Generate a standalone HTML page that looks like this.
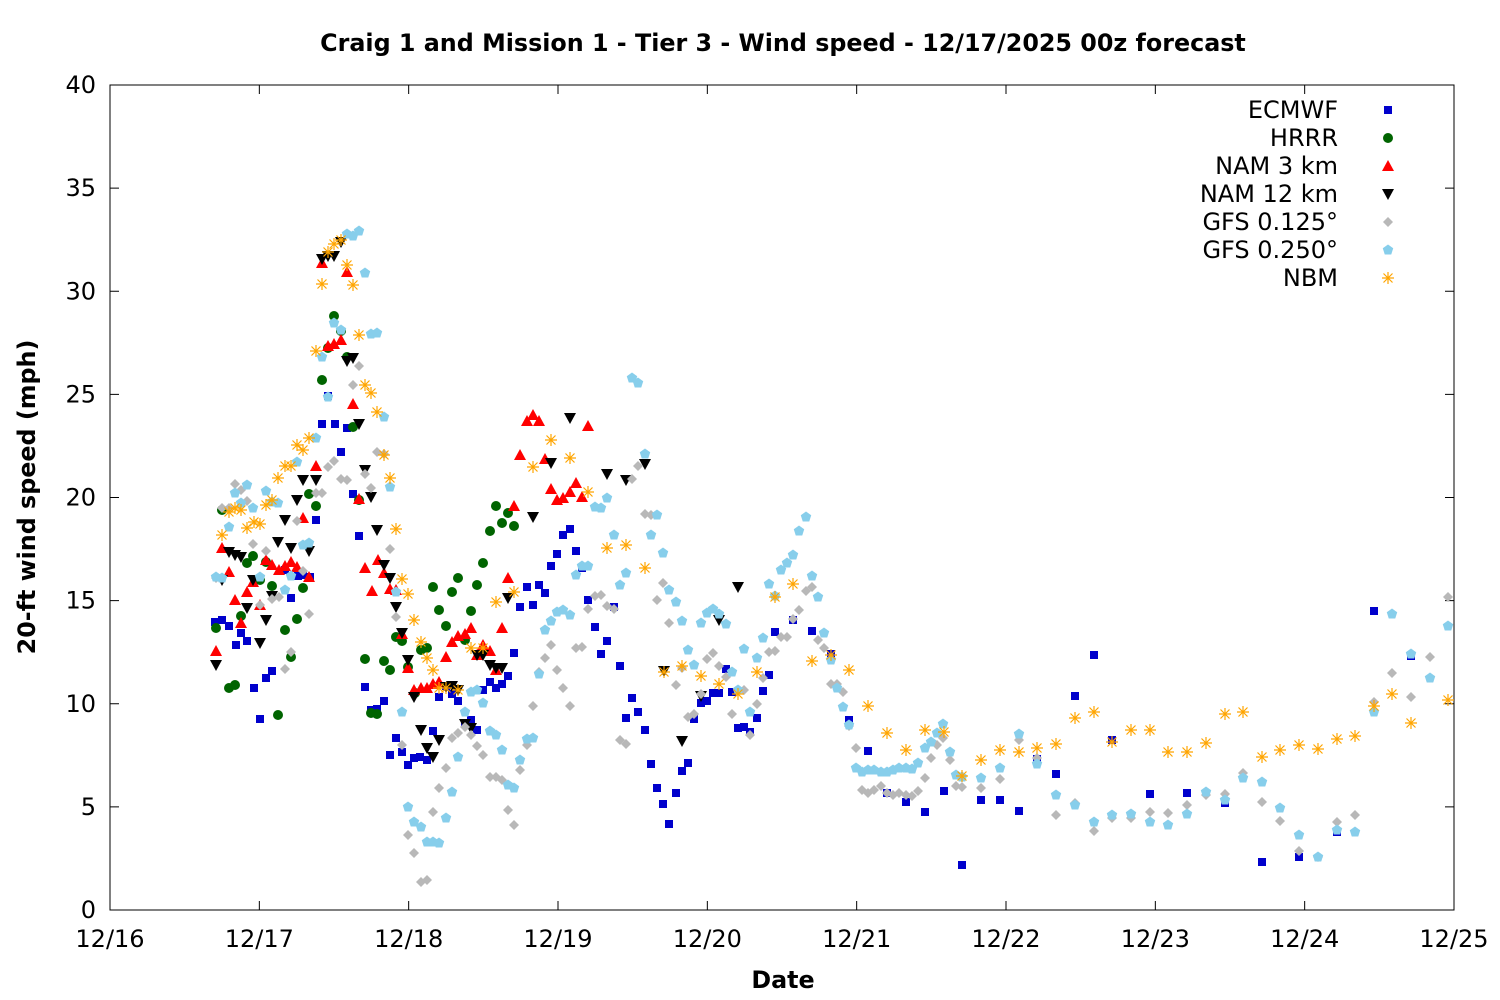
<!DOCTYPE html>
<html><head><meta charset="utf-8"><style>
html,body{margin:0;padding:0;background:#fff;}
svg{display:block;font-family:"DejaVu Sans","Liberation Sans",sans-serif;}
</style></head><body>
<svg id="s" width="1500" height="1000" xmlns="http://www.w3.org/2000/svg">
<rect width="1500" height="1000" fill="#fff"/>
<text x="783" y="51" text-anchor="middle" font-size="23.8" font-weight="bold">Craig 1 and Mission 1 - Tier 3 - Wind speed - 12/17/2025 00z forecast</text>
<text x="783" y="988" text-anchor="middle" font-size="23.8" font-weight="bold">Date</text>
<text transform="translate(35,497) rotate(-90)" text-anchor="middle" font-size="23.8" font-weight="bold">20-ft wind speed (mph)</text>
<g id="ax"></g>
<g id="pts"></g>
<g id="leg" font-size="24" text-anchor="end"></g>
</svg>
<script>
var NS="http://www.w3.org/2000/svg";
function el(t,a,p){var e=document.createElementNS(NS,t);for(var k in a)e.setAttribute(k,a[k]);p.appendChild(e);return e;}
var ax=document.getElementById('ax'),P=document.getElementById('pts'),L=document.getElementById('leg');
var X0=110,X1=1454,Y0=910,Y1=85;
el('rect',{x:X0,y:Y1,width:X1-X0,height:Y0-Y1,fill:'none',stroke:'#000','stroke-width':1},ax);
for(var v=0;v<=40;v+=5){var y=Y0-v*(Y0-Y1)/40;
 el('line',{x1:X0,y1:y,x2:X0+9,y2:y,stroke:'#000'},ax);el('line',{x1:X1,y1:y,x2:X1-9,y2:y,stroke:'#000'},ax);
 var t=el('text',{x:96,y:y+8,'text-anchor':'end','font-size':24},ax);t.textContent=v;}
var days=['12/16','12/17','12/18','12/19','12/20','12/21','12/22','12/23','12/24','12/25'];
for(var i=0;i<10;i++){var x=X0+i*(X1-X0)/9;
 el('line',{x1:x,y1:Y0,x2:x,y2:Y0-9,stroke:'#000'},ax);el('line',{x1:x,y1:Y1,x2:x,y2:Y1+9,stroke:'#000'},ax);
 var t=el('text',{x:x,y:947,'text-anchor':'middle','font-size':24},ax);t.textContent=days[i];}
function sym(k,x,y,c,g){
 if(k==0)el('rect',{x:x-4,y:y-4,width:8,height:8,fill:c},g);
 else if(k==1)el('circle',{cx:x,cy:y,r:5,fill:c},g);
 else if(k==2)el('polygon',{points:(x)+','+(y-6)+' '+(x+6)+','+(y+5)+' '+(x-6)+','+(y+5),fill:c},g);
 else if(k==3)el('polygon',{points:(x)+','+(y+6)+' '+(x+6)+','+(y-5)+' '+(x-6)+','+(y-5),fill:c},g);
 else if(k==4)el('polygon',{points:(x)+','+(y-5)+' '+(x+5)+','+y+' '+x+','+(y+5)+' '+(x-5)+','+y,fill:c},g);
 else if(k==5){var s='';for(var j=0;j<5;j++){var a=-Math.PI/2+j*2*Math.PI/5;s+=(x+5.5*Math.cos(a))+','+(y+5.5*Math.sin(a))+' ';}el('polygon',{points:s,fill:c},g);}
 else{var d=6;el('path',{d:'M'+(x-d)+' '+y+'H'+(x+d)+'M'+x+' '+(y-d)+'V'+(y+d)+'M'+(x-4.5)+' '+(y-4.5)+'L'+(x+4.5)+' '+(y+4.5)+'M'+(x-4.5)+' '+(y+4.5)+'L'+(x+4.5)+' '+(y-4.5),stroke:c,'stroke-width':1.2,fill:'none'},g);}
}
var S=[
[0,'#0000cc','ECMWF',[215,622,222,620,229,626,236,645,241,633,247,641,254,688,260,719,266,678,272,671,285,570,291,598,298,576,303,575,310,577,316,520,322,424,328,396,335,424,341,452,347,428,353,494,359,536,365,687,371,710,377,709,384,701,390,755,396,738,402,752,408,765,414,758,420,757,427,760,433,731,439,697,446,686,452,694,458,701,465,724,471,720,477,730,483,690,490,682,496,688,502,684,508,676,514,653,520,607,527,587,533,605,539,585,545,593,551,566,557,554,563,535,570,529,576,551,582,568,588,600,595,627,601,654,607,641,614,607,620,666,626,718,632,698,638,712,645,730,651,764,657,788,663,804,669,824,676,793,682,771,688,763,694,719,701,703,707,701,713,693,719,693,726,669,732,692,738,728,744,727,750,732,757,718,763,691,769,675,775,632,793,620,812,631,831,654,849,720,868,751,887,793,906,802,925,812,944,791,962,865,981,800,1000,800,1019,811,1037,759,1056,774,1075,696,1094,655,1112,740,1150,794,1187,793,1225,803,1262,862,1299,857,1337,832,1374,611,1411,656]],
[1,'#006400','HRRR',[216,628,222,510,229,688,235,685,241,616,247,563,253,556,260,580,266,562,272,586,278,715,285,630,291,657,297,619,303,588,309,494,316,506,322,380,328,348,334,316,341,331,347,357,353,427,359,500,365,659,371,713,377,714,384,661,390,670,396,637,402,641,408,667,415,693,421,650,427,648,433,587,439,610,446,626,452,592,458,578,465,640,471,611,477,585,483,563,490,531,496,506,502,523,508,513,514,526]],
[2,'#ff0000','NAM 3 km',[216,651,222,548,229,572,235,600,241,623,247,592,253,582,260,605,266,560,272,565,279,570,285,566,291,562,297,567,303,518,309,577,316,466,322,263,328,346,334,344,341,340,347,272,353,404,359,499,365,568,372,591,378,560,384,573,390,589,396,590,402,634,408,668,414,690,421,688,427,688,433,684,439,682,446,657,452,642,458,636,465,634,471,628,477,655,483,645,490,651,496,670,502,628,508,578,514,506,520,455,527,421,533,415,539,421,545,459,551,489,557,500,563,498,570,492,576,483,582,497,588,426]],
[3,'#000000','NAM 12 km',[216,665,222,580,229,552,235,555,241,557,247,608,253,580,260,643,266,620,272,596,278,542,285,520,291,548,297,500,303,480,309,551,316,480,322,259,328,256,334,256,341,242,347,361,353,358,359,424,365,470,371,497,377,530,384,565,390,578,396,607,402,633,408,660,414,697,421,730,427,748,433,757,439,740,446,687,452,686,458,690,465,724,471,728,477,655,483,655,490,665,496,668,502,668,508,598,533,517,551,463,570,418,607,474,626,480,645,464,664,671,682,741,701,696,719,620,738,587]],
[4,'#b8b8b8','GFS 0.125°',[216,578,222,508,229,508,235,484,241,490,247,501,253,544,260,605,266,551,272,599,279,597,285,669,291,652,297,521,303,571,309,614,316,493,322,493,328,467,334,461,341,479,347,480,353,385,359,366,365,474,371,488,377,452,384,454,390,549,396,617,402,745,408,835,414,853,421,882,427,880,433,812,439,788,446,768,452,738,458,733,465,727,471,735,477,746,483,755,490,777,496,777,502,780,508,810,514,825,520,770,527,745,533,706,539,672,545,658,551,645,557,670,563,688,570,706,576,648,582,647,588,609,595,596,601,595,607,606,614,609,620,740,626,744,632,479,638,466,645,514,651,515,657,600,663,583,669,623,676,685,682,668,688,717,694,714,701,694,707,659,713,653,719,666,726,677,732,714,738,690,744,690,750,735,757,704,763,678,769,652,775,651,781,637,787,637,793,619,799,610,806,591,812,587,818,640,824,648,831,684,837,684,843,692,849,726,856,748,862,790,868,793,874,790,881,786,887,793,893,795,899,793,906,795,912,796,918,791,925,778,931,758,937,745,943,738,950,760,956,786,962,787,981,788,1000,779,1019,740,1037,758,1056,815,1075,803,1094,831,1112,818,1131,818,1150,812,1168,813,1187,805,1206,795,1225,794,1243,773,1262,802,1280,821,1299,851,1318,857,1337,822,1355,815,1374,702,1392,673,1411,697,1430,657,1448,597]],
[5,'#87ceeb','GFS 0.250°',[216,577,222,578,229,527,235,493,241,503,247,485,253,508,260,577,266,491,272,502,278,503,285,590,291,576,297,462,303,545,309,543,316,438,322,357,328,397,334,323,341,330,347,234,353,236,359,231,365,273,371,334,377,333,384,417,390,487,396,592,402,712,408,807,414,822,421,827,427,842,433,842,439,843,446,818,452,792,458,757,465,712,471,692,477,690,483,703,490,731,496,735,502,750,508,785,514,788,520,760,527,739,533,738,539,674,545,630,551,621,557,612,563,610,570,615,576,575,582,566,588,566,595,507,601,508,607,498,614,535,620,585,626,573,632,378,638,383,645,454,651,535,657,515,663,553,669,590,676,602,682,621,688,650,694,665,701,623,707,613,713,609,719,614,726,624,732,672,738,690,744,649,750,712,757,658,763,638,769,584,775,596,781,570,787,563,793,555,799,531,806,517,812,576,818,597,824,633,831,660,837,688,843,707,849,725,856,768,862,772,868,770,874,770,881,772,887,772,893,770,899,768,906,768,912,769,918,763,925,748,931,742,937,733,943,724,950,752,956,775,962,777,981,778,1000,768,1019,734,1037,764,1056,795,1075,805,1094,822,1112,815,1131,814,1150,822,1168,825,1187,814,1206,792,1225,800,1243,778,1262,782,1280,808,1299,835,1318,857,1337,830,1355,832,1374,712,1392,614,1411,654,1430,678,1448,626]],
[6,'#ffa500','NBM',[222,535,229,512,235,508,241,510,247,528,254,522,260,524,266,505,272,500,278,478,285,466,291,466,297,445,303,450,309,438,316,351,322,284,328,252,334,244,341,240,347,265,353,285,359,335,365,385,371,393,377,412,384,455,390,478,396,529,402,579,408,594,414,620,421,642,427,658,433,670,439,688,446,688,458,690,471,648,483,648,496,602,514,592,533,467,551,440,570,458,588,492,607,548,626,545,645,568,664,672,682,666,701,676,719,684,738,694,757,672,775,597,793,584,812,661,831,655,849,670,868,706,887,733,906,750,925,730,944,732,962,776,981,760,1000,750,1019,752,1037,748,1056,744,1075,718,1094,712,1112,742,1131,730,1150,730,1168,752,1187,752,1206,743,1225,714,1243,712,1262,757,1280,750,1299,745,1318,749,1337,739,1355,736,1374,706,1392,694,1411,723,1448,700]]
];
S.forEach(function(s,i){var g=el('g',{},P);var d=s[3];for(var j=0;j<d.length;j+=2)sym(s[0],d[j],d[j+1],s[1],g);
 var y=110+i*28;var t=el('text',{x:1338,y:y+8},L);t.textContent=s[2];sym(s[0],1388,y,s[1],L);});
</script>
</body></html>
